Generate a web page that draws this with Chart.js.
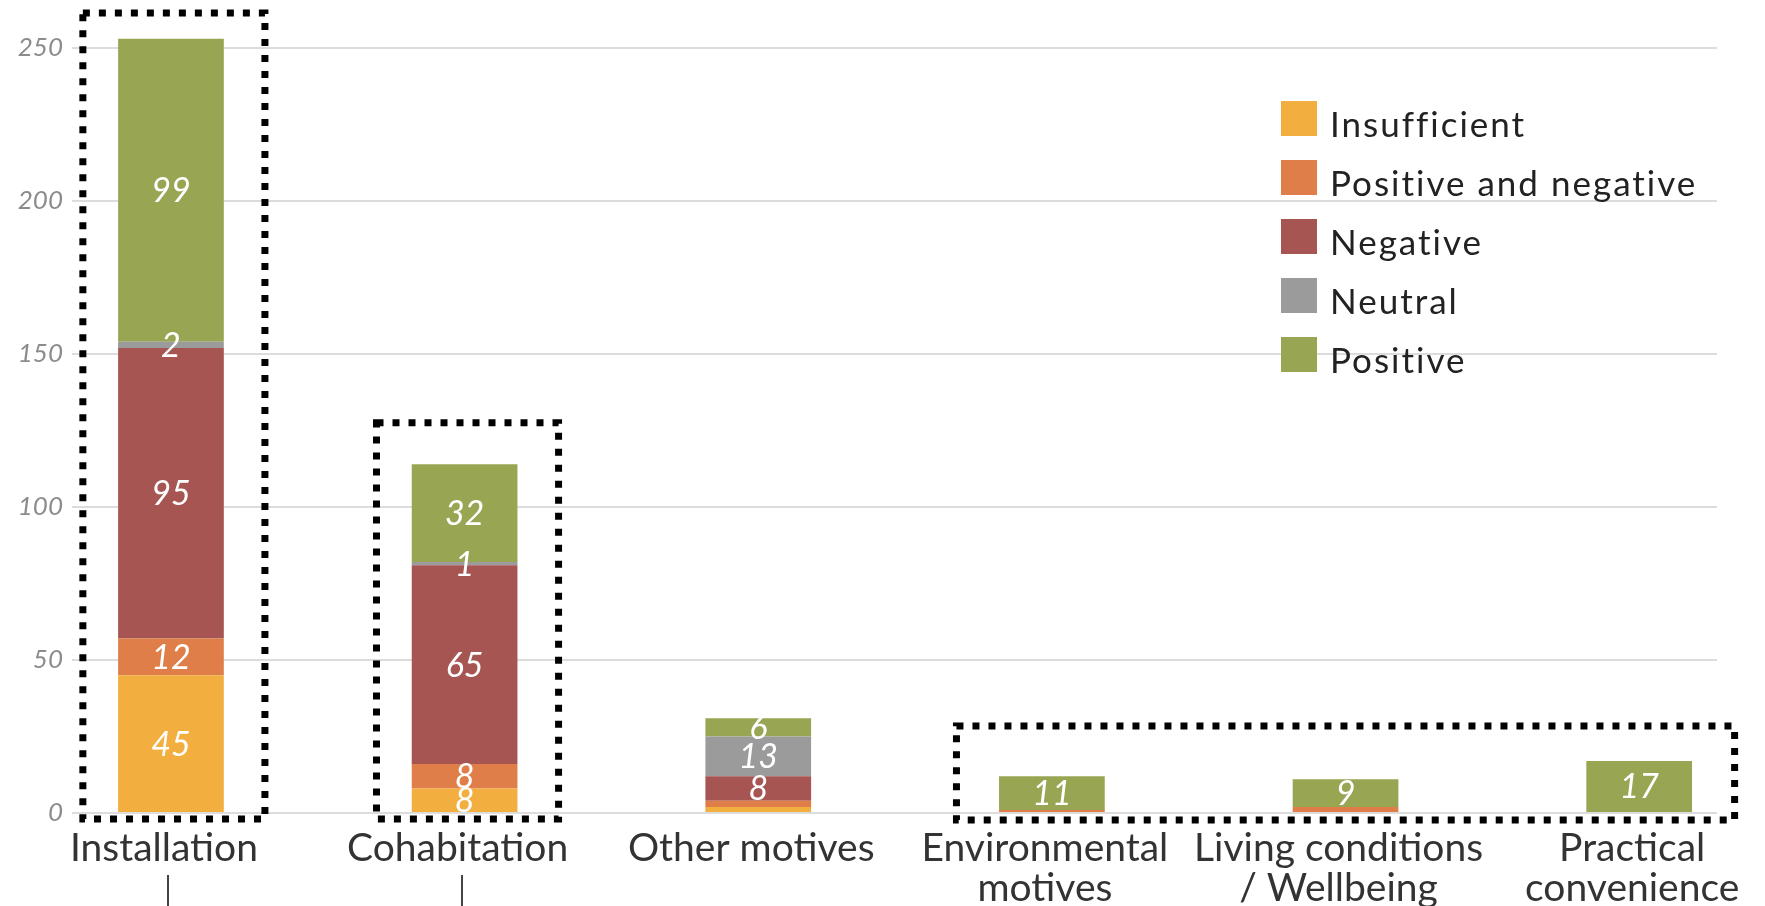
<!DOCTYPE html>
<html>
<head>
<meta charset="utf-8">
<script src="https://cdn.jsdelivr.net/npm/chart.js@4.4.0/dist/chart.umd.min.js"></script>
<style>
  html, body { margin: 0; padding: 0; background: #fff; overflow: hidden; }
  #wrap { position: relative; width: 1765px; height: 906px; }
  #legend { position: absolute; left: 1281px; top: 101px; font-family: Lato, sans-serif; font-size: 35px; letter-spacing: 2px; color: #222; }
  .item { display: flex; align-items: center; height: 35px; margin-bottom: 24px; white-space: nowrap; }
  .sw { width: 36px; height: 35px; margin-right: 13px; flex: none; }
  .item span { position: relative; top: 4px; }
</style>
</head>
<body>
<div id="wrap">
  <canvas id="c" width="1765" height="906"></canvas>
  <div id="legend"></div>
</div>
<script>
// Categories (multi-line labels as arrays) and one array per response type
const categories = [
  ['Installation'],
  ['Cohabitation'],
  ['Other motives'],
  ['Environmental', 'motives'],
  ['Living conditions', '/ Wellbeing'],
  ['Practical', 'convenience']
];
const seriesNames = ['Insufficient', 'Positive and negative', 'Negative', 'Neutral', 'Positive'];
const insufficient        = [45,  8,  2,  0, 0,  0];
const positiveAndNegative = [12,  8,  2,  1, 2,  0];
const negative            = [95, 65,  8,  0, 0,  0];
const neutral             = [ 2,  1, 13,  0, 0,  0];
const positive            = [99, 32,  6, 11, 9, 17];
const yTicks = [0, 50, 100, 150, 200, 250];

const seriesValues = [insufficient, positiveAndNegative, negative, neutral, positive];
const seriesColors = ['#F2AF3F', '#DF7E48', '#A65553', '#9B9B9B', '#98A653'];

const datasets = seriesNames.map((name, k) => ({
  label: name,
  data: seriesValues[k].map((v, i) => ({ x: i, y: v })),
  backgroundColor: seriesColors[k],
  borderWidth: 0,
  categoryPercentage: 1,
  barPercentage: 0.36,
  clip: false
}));

// White italic value labels centred in each segment
const valueLabels = {
  id: 'valueLabels',
  afterDatasetsDraw(chart) {
    const ctx = chart.ctx;
    ctx.save();
    ctx.font = 'italic 34px Lato, sans-serif';
    ctx.fillStyle = '#ffffff';
    ctx.textAlign = 'center';
    ctx.textBaseline = 'middle';
    chart.data.datasets.forEach((ds, di) => {
      chart.getDatasetMeta(di).data.forEach((bar, i) => {
        const v = ds.data[i].y;
        if (!v || (v < 3 && ds.label !== 'Neutral')) return;
        ctx.fillText(String(v), bar.x, (bar.y + bar.base) / 2 + 1);
      });
    });
    ctx.restore();
  }
};

// Dotted frames grouping categories, placed in scale units
const groupFrames = {
  id: 'groupFrames',
  afterDraw(chart, args, opts) {
    const ctx = chart.ctx;
    const xs = chart.scales.x, ys = chart.scales.y;
    ctx.save();
    ctx.strokeStyle = '#000';
    ctx.lineWidth = 7;
    ctx.setLineDash([7, 9]);
    opts.frames.forEach(f => {
      const x1 = xs.getPixelForValue(f.from - f.padL);
      const x2 = xs.getPixelForValue(f.to + f.padR);
      const y1 = ys.getPixelForValue(f.top);
      const y2 = ys.getPixelForValue(f.bottom);
      ctx.strokeRect(x1, y1, x2 - x1, y2 - y1);
    });
    ctx.setLineDash([]);
    ctx.lineWidth = 2;
    ctx.strokeStyle = '#444';
    opts.stems.forEach(i => {
      const x = Math.round(xs.getPixelForValue(i)) - 3;
      ctx.beginPath();
      ctx.moveTo(x, chart.chartArea.bottom + 62);
      ctx.lineTo(x, chart.height);
      ctx.stroke();
    });
    ctx.restore();
  }
};

new Chart(document.getElementById('c'), {
  type: 'bar',
  data: { datasets },
  options: {
    responsive: false,
    devicePixelRatio: 1,
    animation: false,
    layout: { padding: { top: 48, right: 48, left: 0, bottom: 0 } },
    plugins: {
      legend: { display: false },
      tooltip: { enabled: false },
      groupFrames: {
        frames: [
          { from: 0, to: 0, padL: 0.30, padR: 0.32, top: 261.4, bottom: -2 },
          { from: 1, to: 1, padL: 0.30, padR: 0.32, top: 127.5, bottom: -2 },
          { from: 3, to: 5, padL: 0.325, padR: 0.325, top: 28.4, bottom: -2.3 }
        ],
        stems: [0, 1]
      }
    },
    scales: {
      x: {
        type: 'linear',
        min: -0.337,
        max: 5.265,
        offset: false,
        stacked: true,
        grid: { display: false, drawTicks: false, offset: false },
        border: { display: false },
        afterBuildTicks: s => { s.ticks = categories.map((_, i) => ({ value: i })); },
        afterFit: s => { s.height = 93; },
        ticks: {
          autoSkip: false,
          maxRotation: 0,
          padding: 16,
          labelOffset: -7,
          color: '#333',
          font: { family: 'Lato', size: 39, lineHeight: 1.02 },
          callback: v => categories[v]
        }
      },
      y: {
        min: 0,
        max: 250,
        stacked: true,
        grid: { color: '#dcdcdc', lineWidth: 2, drawTicks: false },
        border: { display: false },
        afterBuildTicks: s => { s.ticks = yTicks.map(v => ({ value: v })); },
        afterFit: s => { s.width = 72; },
        ticks: {
          padding: 9,
          color: '#8c8c8c',
          font: { family: 'Lato', size: 26, style: 'italic' }
        }
      }
    }
  },
  plugins: [valueLabels, groupFrames]
});

// Legend listing the series from bottom segment to top segment
const legend = document.getElementById('legend');
seriesNames.forEach((name, k) => {
  const row = document.createElement('div');
  row.className = 'item';
  const sw = document.createElement('div');
  sw.className = 'sw';
  sw.style.background = seriesColors[k];
  const label = document.createElement('span');
  label.textContent = name;
  row.appendChild(sw);
  row.appendChild(label);
  legend.appendChild(row);
});
</script>
</body>
</html>
